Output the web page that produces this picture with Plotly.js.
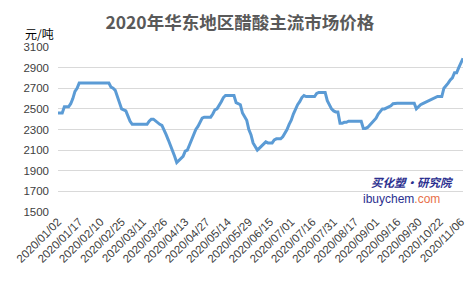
<!DOCTYPE html>
<html>
<head>
<meta charset="utf-8">
<script src="https://cdn.plot.ly/plotly-3.0.1.min.js"></script>
<style>html,body{margin:0;padding:0;background:#fff;}#chart{width:473px;height:285px;}</style>
</head>
<body>
<div id="chart"></div>
<script>
// Price series (元/吨), one value per trading day
const prices = [
  2460,2460,2460,2520,2520,2520,2550,2600,2670,2700,
  2750,2750,2750,2750,2750,2750,2750,2750,2750,2750,
  2750,2750,2750,2750,2750,2710,2700,2680,2620,2580,
  2500,2490,2480,2430,2380,2350,2350,2350,2350,2350,
  2350,2350,2350,2380,2400,2400,2380,2360,2350,2340,
  2300,2250,2200,2150,2100,2040,1980,2000,2010,2040,
  2090,2100,2150,2200,2250,2300,2330,2370,2410,2420,
  2420,2420,2420,2450,2490,2500,2530,2570,2610,2630,
  2630,2630,2630,2630,2560,2550,2540,2460,2420,2390,
  2300,2250,2170,2130,2100,2120,2140,2160,2180,2170,
  2170,2170,2200,2210,2210,2210,2230,2260,2300,2350,
  2390,2450,2500,2540,2570,2610,2630,2620,2620,2620,
  2620,2620,2650,2660,2660,2660,2660,2580,2540,2500,
  2480,2470,2470,2360,2360,2370,2370,2380,2380,2380,
  2380,2380,2380,2380,2310,2310,2320,2340,2360,2380,
  2410,2450,2470,2500,2500,2510,2515,2530,2550,2555,
  2555,2555,2555,2555,2555,2555,2555,2555,2555,2500,
  2520,2540,2550,2560,2570,2580,2590,2600,2610,2620,
  2620,2620,2700,2720,2750,2780,2800,2850,2850,2900,
  2950,2990
];
// Date labels shown on the category axis (every 10th day)
const dateLabels = [
  "2020/01/02","2020/01/17","2020/02/10","2020/02/25","2020/03/11",
  "2020/03/26","2020/04/13","2020/04/27","2020/05/14","2020/05/29",
  "2020/06/15","2020/07/01","2020/07/16","2020/07/31","2020/08/17",
  "2020/09/01","2020/09/16","2020/09/30","2020/10/22","2020/11/06"
];
const yTicks = [1500,1700,1900,2100,2300,2500,2700,2900,3100];
const labelEvery = 10;

const xIdx = prices.map((v, i) => i);

const trace = {
  x: xIdx, y: prices, type: 'scatter', mode: 'lines',
  line: {color: '#5b9bd5', width: 3},
  hoverinfo: 'skip'
};

const layout = {
  width: 473, height: 285,
  margin: {l: 58, r: 10, t: 46.5, b: 73},
  paper_bgcolor: '#fff', plot_bgcolor: '#fff',
  showlegend: false,
  title: {
    text: '<b>2020年华东地区醋酸主流市场价格</b>',
    font: {family: 'Noto Sans CJK SC', size: 17.5, color: '#595959'},
    x: 0.507, xanchor: 'center', y: 0.92, yanchor: 'middle'
  },
  xaxis: {
    range: [0, prices.length - 1],
    tickvals: dateLabels.map((d, i) => i * labelEvery),
    ticktext: dateLabels,
    tickangle: -45,
    tickfont: {family: 'Liberation Sans, Arial', size: 11.5, color: '#404040'},
    showgrid: false, zeroline: false, showline: false, ticks: ''
  },
  yaxis: {
    range: [1500, 3100],
    tickvals: yTicks,
    tickfont: {family: 'Liberation Sans, Arial', size: 11.5, color: '#404040'},
    ticklabelstandoff: 8,
    showgrid: true, gridcolor: '#d9d9d9', gridwidth: 1,
    zeroline: false, showline: false, ticks: '', ticklen: 0
  },
  annotations: [
    {text: '元/吨', xref: 'paper', yref: 'paper', x: -0.086, y: 1.0, xanchor: 'left', yanchor: 'bottom',
     showarrow: false, font: {family: 'Noto Sans CJK SC', size: 12, color: '#000'}, yshift: 3},
    {text: '<b><i>买化塑·研究院</i></b>', xref: 'paper', yref: 'paper', x: 0.982, y: 0.18,
     xanchor: 'right', yanchor: 'middle', showarrow: false,
     font: {family: 'Noto Sans CJK SC', size: 11.5, color: '#2b2f8f'}},
    {text: 'ibuychem<span style="color:#e8704a">.com</span>', xref: 'paper', yref: 'paper', x: 0.948, y: 0.08,
     xanchor: 'right', yanchor: 'middle', showarrow: false,
     font: {family: 'Liberation Sans, Arial', size: 12, color: '#2b2f8f'}}
  ]
};

Plotly.newPlot('chart', [trace], layout, {displayModeBar: false, staticPlot: true});
</script>
</body>
</html>
